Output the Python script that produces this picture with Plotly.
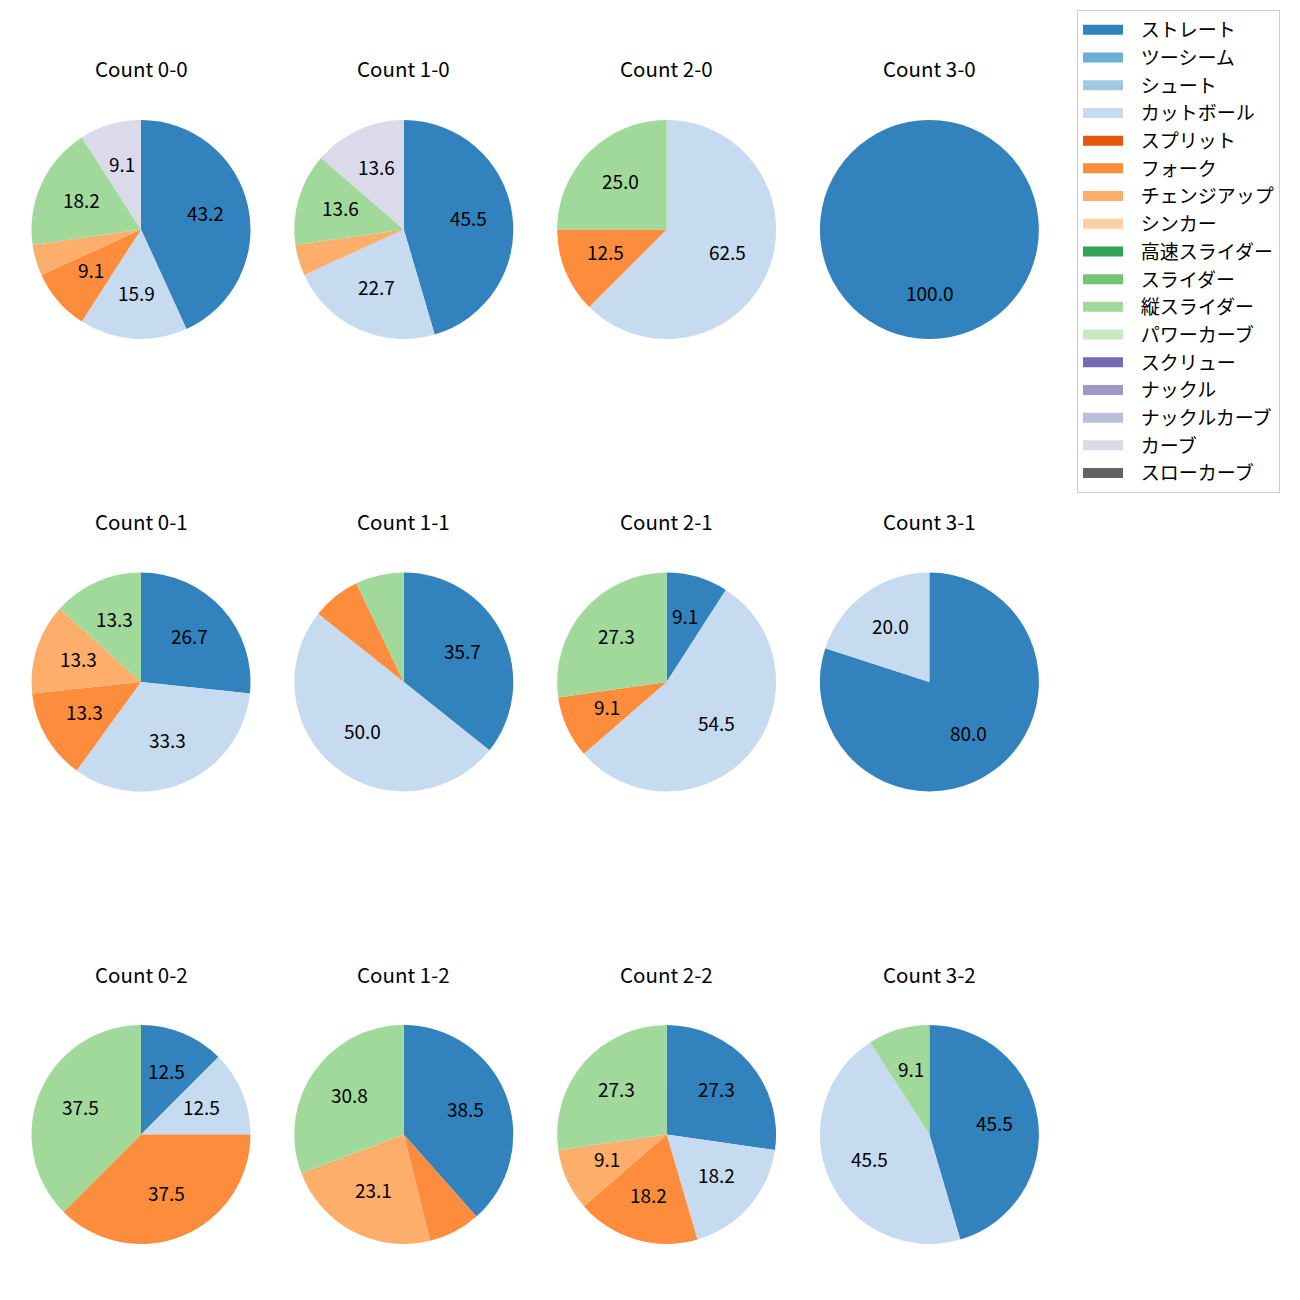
import math
import plotly.graph_objects as go

# ---- data ----
pitch_types = ["ストレート", "ツーシーム", "シュート", "カットボール", "スプリット", "フォーク",
               "チェンジアップ", "シンカー", "高速スライダー", "スライダー", "縦スライダー",
               "パワーカーブ", "スクリュー", "ナックル", "ナックルカーブ", "カーブ", "スローカーブ"]
pitch_colors = ["#3182bd", "#6baed6", "#9ecae1", "#c6dbef", "#e6550d", "#fd8d3c",
                "#fdae6b", "#fdd0a2", "#31a354", "#74c476", "#a1d99b", "#c7e9c0",
                "#756bb1", "#9e9ac8", "#bcbddc", "#dadaeb", "#636363"]

counts = ["0-0", "1-0", "2-0", "3-0",
          "0-1", "1-1", "2-1", "3-1",
          "0-2", "1-2", "2-2", "3-2"]

labels_00 = ["ストレート", "カットボール", "フォーク", "チェンジアップ", "縦スライダー", "カーブ"]
values_00 = [19, 7, 4, 2, 8, 4]
labels_10 = ["ストレート", "カットボール", "チェンジアップ", "縦スライダー", "カーブ"]
values_10 = [10, 5, 1, 3, 3]
labels_20 = ["カットボール", "フォーク", "縦スライダー"]
values_20 = [5, 1, 2]
labels_30 = ["ストレート"]
values_30 = [1]
labels_01 = ["ストレート", "カットボール", "フォーク", "チェンジアップ", "縦スライダー"]
values_01 = [4, 5, 2, 2, 2]
labels_11 = ["ストレート", "カットボール", "フォーク", "縦スライダー"]
values_11 = [5, 7, 1, 1]
labels_21 = ["ストレート", "カットボール", "フォーク", "縦スライダー"]
values_21 = [1, 6, 1, 3]
labels_31 = ["ストレート", "カットボール"]
values_31 = [4, 1]
labels_02 = ["ストレート", "カットボール", "フォーク", "縦スライダー"]
values_02 = [1, 1, 3, 3]
labels_12 = ["ストレート", "フォーク", "チェンジアップ", "縦スライダー"]
values_12 = [5, 1, 3, 4]
labels_22 = ["ストレート", "カットボール", "フォーク", "チェンジアップ", "縦スライダー"]
values_22 = [3, 2, 2, 1, 3]
labels_32 = ["ストレート", "カットボール", "縦スライダー"]
values_32 = [5, 5, 1]

pie_labels = [labels_00, labels_10, labels_20, labels_30,
              labels_01, labels_11, labels_21, labels_31,
              labels_02, labels_12, labels_22, labels_32]
pie_values = [values_00, values_10, values_20, values_30,
              values_01, values_11, values_21, values_31,
              values_02, values_12, values_22, values_32]

# ---- layout geometry (pixels in the final picture) ----
W = H = 1300
OFF = 8  # page body margin that shifts the figure in the browser
FONT = "Noto Sans CJK JP"
col_cx = [141.0, 403.8, 666.6, 929.4]
row_cy = [229.5, 682.0, 1134.5]
R = 109.5
title_offset = 161.0
label_lift = 3.0
min_pct_label = 8.0


def px_x(x):
    return (x - OFF) / W


def px_y(y):
    return 1 - (y - OFF) / H


color_of = dict(zip(pitch_types, pitch_colors))

fig = go.Figure()
annotations = []

for i, (cnt, labs, vals) in enumerate(zip(counts, pie_labels, pie_values)):
    r, c = divmod(i, 4)
    cx, cy = col_cx[c], row_cy[r]
    fig.add_trace(go.Pie(
        labels=labs, values=vals, sort=False, direction="clockwise", rotation=0,
        marker=dict(colors=[color_of[l] for l in labs], line=dict(width=0)),
        textinfo="none", showlegend=False, hole=0,
        domain=dict(x=[px_x(cx - R), px_x(cx + R)], y=[px_y(cy + R), px_y(cy - R)]),
    ))
    total = sum(vals)
    cum = 0.0
    for v in vals:
        pct = 100.0 * v / total
        mid = (cum + v / 2) / total * 2 * math.pi
        cum += v
        if pct < min_pct_label:
            continue
        tx = cx + 0.6 * R * math.sin(mid)
        ty = cy - 0.6 * R * math.cos(mid) - label_lift
        annotations.append(dict(
            x=px_x(tx), y=px_y(ty), xref="paper", yref="paper",
            text=f"{pct:.1f}", showarrow=False, xanchor="center", yanchor="middle",
            font=dict(family=FONT, size=19, color="black")))
    annotations.append(dict(
        x=px_x(cx), y=px_y(cy - title_offset), xref="paper", yref="paper",
        text=f"Count {cnt}", showarrow=False, xanchor="center", yanchor="middle",
        font=dict(family=FONT, size=20.5, color="black")))

# legend entries (thick line symbols look like the reference rectangles)
for name, col in zip(pitch_types, pitch_colors):
    fig.add_trace(go.Scatter(x=[None], y=[None], mode="lines", name="\u00a0\u00a0\u00a0" + name,
                             line=dict(color=col, width=13), showlegend=True))

fig.update_layout(
    width=W, height=H,
    margin=dict(l=0, r=0, t=0, b=0),
    paper_bgcolor="white", plot_bgcolor="white",
    font=dict(family=FONT, size=19, color="black"),
    xaxis=dict(visible=False), yaxis=dict(visible=False),
    annotations=annotations,
    legend=dict(x=px_x(1077), y=px_y(10), xanchor="left", yanchor="top",
                bgcolor="white", bordercolor="#cccccc", borderwidth=1,
                font=dict(family=FONT, size=19, color="black"),
                itemwidth=40, tracegroupgap=0),
)

fig.write_html("out.html")
